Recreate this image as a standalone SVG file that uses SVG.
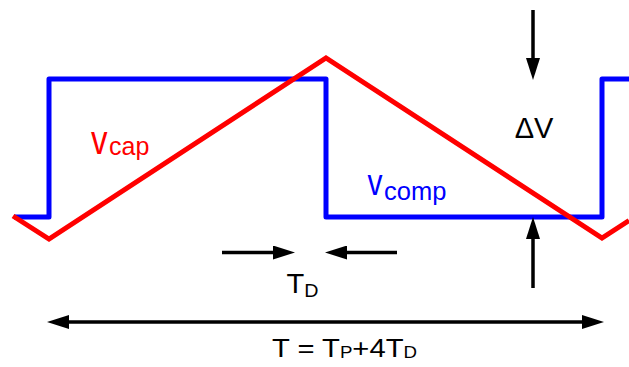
<svg xmlns="http://www.w3.org/2000/svg" width="629" height="367" viewBox="0 0 629 367">
<style>
.arr{stroke:#000;stroke-width:3.5;fill:none}
.t{font-family:"Liberation Sans",Arial,sans-serif}
.k{fill:#000}
.r{fill:#ff0000}
.b{fill:#0000ff}
</style>
<defs>
<marker id="ah" markerUnits="userSpaceOnUse" markerWidth="22" markerHeight="14" refX="14" refY="7" orient="auto-start-reverse">
<path d="M0,0 L22,7 L0,14 z" fill="#000"/>
</marker>
</defs>
<rect width="629" height="367" fill="#fff"/>
<g id="vcomp-wave">
<path d="M14,217 H49 V79 H326 V217 H602 V79 H629" fill="none" stroke="#0000ff" stroke-width="5" stroke-linejoin="round"/>
</g>
<g id="vcap-wave">
<path d="M13,216 L49,239 L326,58 L602,238 L629,220.5" fill="none" stroke="#ff0000" stroke-width="5" stroke-linejoin="miter"/>
</g>
<g id="connectors">
<line class="arr" x1="533" y1="10" x2="533" y2="72" marker-end="url(#ah)"/>
<line class="arr" x1="533" y1="288" x2="533" y2="225" marker-end="url(#ah)"/>
<line class="arr" x1="222" y1="252.5" x2="287" y2="252.5" marker-end="url(#ah)"/>
<line class="arr" x1="397" y1="252.5" x2="333" y2="252.5" marker-end="url(#ah)"/>
<line class="arr" x1="55" y1="322" x2="596" y2="322" marker-start="url(#ah)" marker-end="url(#ah)"/>
</g>
<g id="label-vcap">
<text class="t r" x="91" y="153.5" font-size="40" textLength="16.5" lengthAdjust="spacingAndGlyphs">v</text>
<text class="t r" x="109" y="154.5" font-size="25">cap</text>
</g>
<g id="label-vcomp">
<text class="t b" x="367.5" y="195" font-size="37" textLength="15" lengthAdjust="spacingAndGlyphs">v</text>
<text class="t b" x="384" y="199.5" font-size="25.5">comp</text>
</g>
<g id="label-dv">
<text class="t k" x="534" y="138" font-size="29" text-anchor="middle">ΔV</text>
</g>
<g id="label-td">
<text class="t k" x="286.5" y="292.5" font-size="28" textLength="32" lengthAdjust="spacingAndGlyphs">T<tspan font-size="19" dy="4">D</tspan></text>
</g>
<g id="label-t">
<text class="t k" x="272" y="356.7" font-size="25" textLength="145" lengthAdjust="spacingAndGlyphs">T = T<tspan font-size="16" dy="1.5">P</tspan><tspan dy="-1.5">+4T</tspan><tspan font-size="16" dy="1.5">D</tspan></text>
</g>
</svg>
